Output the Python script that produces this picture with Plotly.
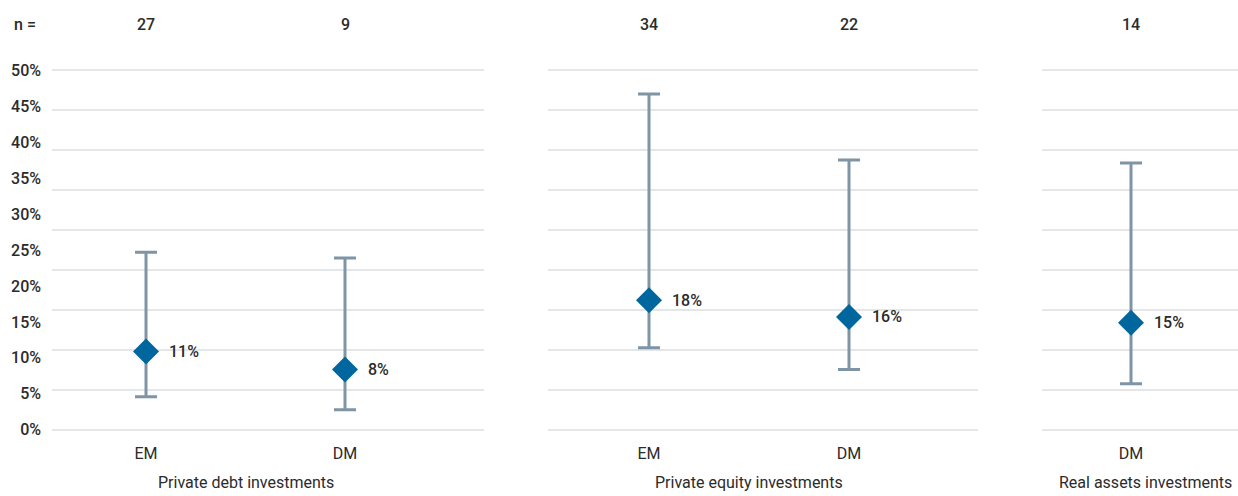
import plotly.graph_objects as go

# ---------------- data ----------------
panel_titles = ["Private debt investments", "Private equity investments", "Real assets investments"]

debt_cats = ["EM", "DM"]
debt_mid = [10.9, 8.4]
debt_high = [24.7, 23.9]
debt_low = [4.6, 2.8]
debt_n = [27, 9]

equity_cats = ["EM", "DM"]
equity_mid = [18.0, 15.7]
equity_high = [46.7, 37.5]
equity_low = [11.4, 8.4]
equity_n = [34, 22]

real_cats = ["DM"]
real_mid = [14.9]
real_high = [37.1]
real_low = [6.4]
real_n = [14]

y_tick_vals = [0, 5, 10, 15, 20, 25, 30, 35, 40, 45, 50]
y_tick_text = [f"{v}%" for v in y_tick_vals]
grid_count = 9  # grid intervals in the original chart

# ---------------- style ----------------
FONT = "Roboto, Liberation Sans, sans-serif"
TXT = "#2b2b2b"
MARK = "#00669e"
BAR = "#7f95a6"
GRID = "#e3e7ea"

W, H = 1238, 496
ML, MR, MT, MB = 52, 0, 62.8, 58.8
PW = W - ML - MR

def px2paper(px):
    return (px - ML) / PW

domains = [
    [px2paper(52), px2paper(484)],
    [px2paper(548), px2paper(978)],
    [px2paper(1042), px2paper(1238)],
]
xranges = [
    [-0.4724, 1.6985],
    [-0.505, 1.645],
    [-0.445, 0.535],
]

panels = [
    (debt_cats, debt_mid, debt_high, debt_low, debt_n),
    (equity_cats, equity_mid, equity_high, equity_low, equity_n),
    (real_cats, real_mid, real_high, real_low, real_n),
]

fig = go.Figure()
annotations = []
grid_vals = [k * 50 / grid_count for k in range(grid_count + 1)]
yrange = [-1, 51]

title_shift = [0, 0, 14]
num_font = dict(family=FONT, size=16, color=TXT, weight=500)
lbl_font = dict(family=FONT, size=16, color=TXT)

for i, (cats, mid, hi, lo, n) in enumerate(panels):
    sfx = "" if i == 0 else str(i + 1)
    xs = list(range(len(cats)))
    fig.add_trace(go.Scatter(
        x=xs, y=mid, mode="markers",
        marker=dict(symbol="diamond", size=20, color=MARK, line=dict(width=0)),
        error_y=dict(type="data", symmetric=False,
                     array=[h - m for h, m in zip(hi, mid)],
                     arrayminus=[m - l for m, l in zip(mid, lo)],
                     color=BAR, thickness=3, width=11),
        xaxis="x" + sfx, yaxis="y" + sfx, showlegend=False, cliponaxis=False,
        hoverinfo="skip",
    ))
    fig.update_layout(**{
        "xaxis" + sfx: dict(domain=domains[i], range=xranges[i], anchor="y" + sfx,
                             tickvals=xs, ticktext=cats, showgrid=False, zeroline=False,
                             showline=False, ticks="", ticklabelstandoff=5,
                             tickfont=lbl_font),
        "yaxis" + sfx: dict(range=yrange, anchor="x" + sfx, tickvals=grid_vals,
                             showticklabels=False, showgrid=True, gridcolor=GRID,
                             gridwidth=1.5, zeroline=False, showline=False, ticks=""),
    })
    for x, m, cnt in zip(xs, mid, n):
        annotations.append(dict(x=x, y=m, xref="x" + sfx, yref="y" + sfx,
                                text=f"{round(m)}%", showarrow=False,
                                xanchor="left", yanchor="middle", xshift=21,
                                font=num_font))
        annotations.append(dict(x=x, y=1, xref="x" + sfx, yref="paper",
                                text=str(cnt), showarrow=False,
                                xanchor="center", yanchor="middle", yshift=38.8,
                                font=num_font))
    annotations.append(dict(x=(len(cats) - 1) / 2, y=0, xref="x" + sfx, yref="paper",
                            text=panel_titles[i], showarrow=False, xanchor="center",
                            yanchor="middle", yshift=-45.8, xshift=title_shift[i],
                            font=dict(family=FONT, size=16, color=TXT)))

annotations.append(dict(x=px2paper(25), y=1, xref="paper", yref="paper", text="n =",
                        showarrow=False, xanchor="center", yanchor="middle", yshift=38.8,
                        font=num_font))

fig.update_layout(
    yaxis4=dict(overlaying="y", anchor="x", side="left", range=yrange,
                tickvals=y_tick_vals, ticktext=y_tick_text, showgrid=False,
                zeroline=False, showline=False, ticks="", ticklabelstandoff=10,
                tickfont=num_font),
)
# invisible trace to activate the label axis
fig.add_trace(go.Scatter(x=[None], y=[None], xaxis="x", yaxis="y4", showlegend=False,
                         hoverinfo="skip"))

fig.update_layout(
    width=W, height=H,
    margin=dict(l=ML, r=MR, t=MT, b=MB),
    paper_bgcolor="white", plot_bgcolor="white",
    annotations=annotations,
    showlegend=False,
    font=dict(family=FONT, color=TXT),
)

fig.write_html("out.html")
